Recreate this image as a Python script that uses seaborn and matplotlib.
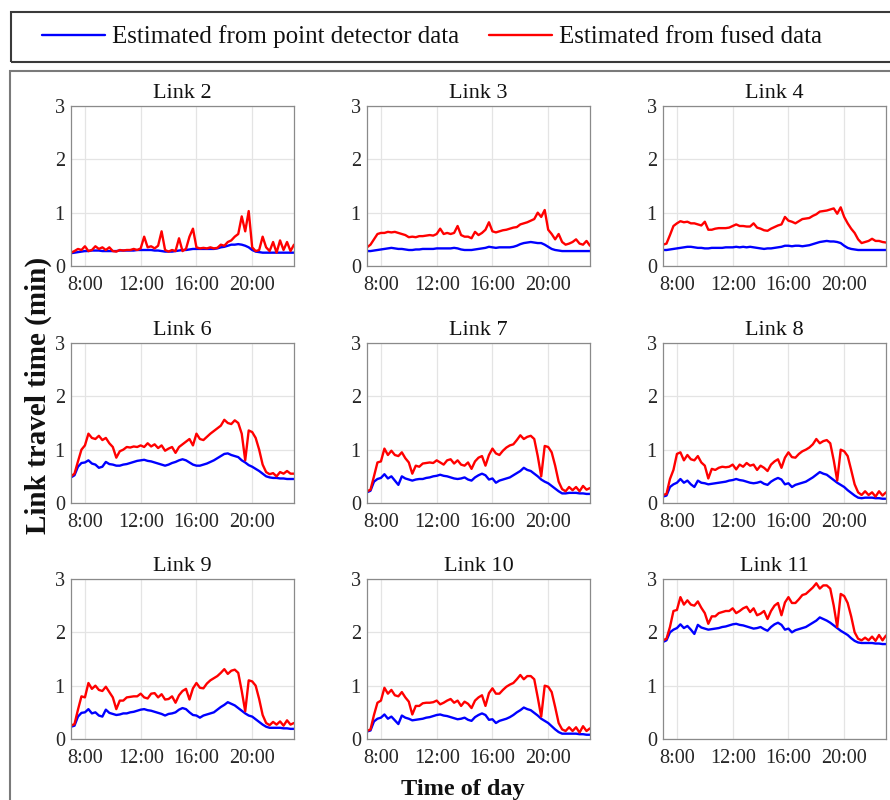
import numpy as np
import pandas as pd
import matplotlib
matplotlib.use("Agg")
import matplotlib.pyplot as plt
from matplotlib.lines import Line2D
from matplotlib.patches import Rectangle
import seaborn as sns

# ---------------------------------------------------------------- data
# 15-minute time grid from 07:00 to 23:00 (hours of the day)
hours = np.arange(7.0, 23.0 + 1e-9, 0.25)

xtick_hours = [8, 12, 16, 20]
xtick_labels = ["8:00", "12:00", "16:00", "20:00"]
ytick_values = [0, 1, 2, 3]

source_point = "Estimated from point detector data"
source_fused = "Estimated from fused data"

link_names = ["Link 2", "Link 3", "Link 4",
              "Link 6", "Link 7", "Link 8",
              "Link 9", "Link 10", "Link 11"]

# travel time (min), one row per hour: :00 :15 :30 :45
point_link2 = [0.24, 0.25, 0.26, 0.27,  0.28, 0.28, 0.29, 0.29,  0.29, 0.28, 0.28, 0.28,
               0.28, 0.28, 0.29, 0.29,  0.29, 0.29, 0.29, 0.30,  0.30, 0.30, 0.30, 0.30,
               0.29, 0.29, 0.28, 0.27,  0.27, 0.27, 0.28, 0.29,  0.30, 0.30, 0.31, 0.32,
               0.32, 0.32, 0.32, 0.32,  0.32, 0.32, 0.33, 0.35,  0.36, 0.38, 0.40, 0.40,
               0.41, 0.40, 0.38, 0.35,  0.30, 0.27, 0.26, 0.25,  0.25, 0.25, 0.25, 0.25,
               0.25, 0.25, 0.25, 0.25,  0.25]
fused_link2 = [0.25, 0.28, 0.32, 0.30,  0.37, 0.28, 0.30, 0.37,  0.32, 0.35, 0.30, 0.35,
               0.28, 0.27, 0.30, 0.29,  0.30, 0.30, 0.32, 0.30,  0.33, 0.55, 0.35, 0.37,
               0.33, 0.38, 0.65, 0.30,  0.27, 0.30, 0.28, 0.52,  0.28, 0.32, 0.55, 0.70,
               0.35, 0.33, 0.34, 0.33,  0.35, 0.33, 0.34, 0.40,  0.38, 0.45, 0.48, 0.55,
               0.60, 0.93, 0.65, 1.03,  0.35, 0.28, 0.30, 0.55,  0.35, 0.28, 0.45, 0.25,
               0.48, 0.30, 0.45, 0.28,  0.40]

point_link3 = [0.28, 0.28, 0.29, 0.30,  0.31, 0.32, 0.33, 0.34,  0.33, 0.32, 0.32, 0.31,
               0.30, 0.30, 0.31, 0.31,  0.32, 0.32, 0.32, 0.32,  0.33, 0.33, 0.33, 0.33,
               0.33, 0.34, 0.33, 0.31,  0.30, 0.30, 0.30, 0.31,  0.32, 0.33, 0.34, 0.36,
               0.35, 0.34, 0.35, 0.35,  0.35, 0.35, 0.36, 0.38,  0.41, 0.43, 0.44, 0.45,
               0.44, 0.43, 0.43, 0.40,  0.36, 0.32, 0.30, 0.29,  0.28, 0.28, 0.28, 0.28,
               0.28, 0.28, 0.28, 0.28,  0.28]
fused_link3 = [0.35, 0.40, 0.50, 0.60,  0.62, 0.62, 0.64, 0.63,  0.64, 0.62, 0.60, 0.58,
               0.54, 0.55, 0.54, 0.56,  0.56, 0.57, 0.58, 0.57,  0.60, 0.70, 0.60, 0.62,
               0.60, 0.62, 0.75, 0.58,  0.55, 0.55, 0.52, 0.64,  0.58, 0.62, 0.68, 0.82,
               0.65, 0.63, 0.65, 0.67,  0.68, 0.70, 0.72, 0.73,  0.78, 0.80, 0.82, 0.85,
               0.88, 1.00, 0.92, 1.05,  0.68, 0.60, 0.50, 0.60,  0.45, 0.40, 0.42, 0.45,
               0.50, 0.42, 0.40, 0.47,  0.38]

point_link4 = [0.30, 0.30, 0.31, 0.32,  0.33, 0.34, 0.35, 0.36,  0.36, 0.35, 0.34, 0.34,
               0.33, 0.33, 0.34, 0.34,  0.34, 0.34, 0.35, 0.35,  0.35, 0.36, 0.35, 0.36,
               0.35, 0.36, 0.35, 0.34,  0.33, 0.32, 0.33, 0.33,  0.34, 0.35, 0.36, 0.38,
               0.38, 0.37, 0.38, 0.38,  0.37, 0.38, 0.39, 0.41,  0.43, 0.45, 0.46, 0.47,
               0.46, 0.46, 0.45, 0.43,  0.38, 0.34, 0.32, 0.31,  0.30, 0.30, 0.30, 0.30,
               0.30, 0.30, 0.30, 0.30,  0.30]
fused_link4 = [0.40, 0.42, 0.58, 0.75,  0.80, 0.84, 0.82, 0.83,  0.80, 0.80, 0.78, 0.76,
               0.83, 0.68, 0.68, 0.70,  0.71, 0.71, 0.71, 0.72,  0.75, 0.78, 0.75, 0.75,
               0.74, 0.74, 0.80, 0.72,  0.70, 0.67, 0.66, 0.70,  0.73, 0.76, 0.78, 0.92,
               0.85, 0.83, 0.80, 0.84,  0.88, 0.89, 0.90, 0.94,  0.97, 1.02, 1.03, 1.04,
               1.06, 1.08, 0.98, 1.10,  0.92, 0.80, 0.70, 0.62,  0.50, 0.43, 0.45, 0.47,
               0.51, 0.47, 0.47, 0.45,  0.44]

point_link6 = [0.48, 0.52, 0.68, 0.75,  0.76, 0.80, 0.74, 0.72,  0.66, 0.68, 0.77, 0.73,
               0.72, 0.70, 0.70, 0.72,  0.73, 0.75, 0.77, 0.79,  0.80, 0.81, 0.79, 0.78,
               0.76, 0.74, 0.72, 0.70,  0.72, 0.75, 0.77, 0.80,  0.82, 0.80, 0.76, 0.72,
               0.70, 0.70, 0.72, 0.74,  0.77, 0.80, 0.84, 0.88,  0.92, 0.93, 0.90, 0.88,
               0.86, 0.80, 0.76, 0.71,  0.68, 0.64, 0.60, 0.55,  0.50, 0.48, 0.47, 0.47,
               0.46, 0.46, 0.45, 0.45,  0.45]
fused_link6 = [0.50, 0.55, 0.78, 1.00,  1.08, 1.30, 1.22, 1.20,  1.26, 1.18, 1.22, 1.12,
               1.05, 0.85, 0.97, 1.00,  1.05, 1.04, 1.06, 1.05,  1.08, 1.05, 1.12, 1.06,
               1.10, 1.03, 1.08, 0.98,  1.02, 1.05, 0.94, 1.05,  1.10, 1.15, 1.20, 1.08,
               1.30, 1.20, 1.18, 1.24,  1.30, 1.35, 1.40, 1.45,  1.56, 1.50, 1.48, 1.55,
               1.50, 1.30, 0.80, 1.36,  1.33, 1.22, 1.00, 0.72,  0.58, 0.54, 0.56, 0.50,
               0.58, 0.55, 0.60, 0.55,  0.55]

point_link7 = [0.20, 0.23, 0.40, 0.45,  0.47, 0.54, 0.46, 0.50,  0.42, 0.34, 0.50, 0.46,
               0.44, 0.42, 0.44, 0.45,  0.45, 0.47, 0.48, 0.50,  0.51, 0.53, 0.51, 0.50,
               0.48, 0.46, 0.45, 0.46,  0.48, 0.44, 0.42, 0.48,  0.52, 0.55, 0.52, 0.44,
               0.46, 0.38, 0.42, 0.44,  0.46, 0.48, 0.52, 0.56,  0.60, 0.66, 0.62, 0.60,
               0.55, 0.50, 0.44, 0.40,  0.37, 0.32, 0.27, 0.22,  0.18, 0.18, 0.19, 0.19,
               0.19, 0.18, 0.18, 0.17,  0.17]
fused_link7 = [0.22, 0.25, 0.50, 0.76,  0.78, 1.02, 0.90, 0.98,  0.90, 0.88, 0.95, 0.84,
               0.76, 0.55, 0.70, 0.68,  0.74, 0.75, 0.76, 0.75,  0.80, 0.76, 0.72, 0.80,
               0.82, 0.74, 0.80, 0.72,  0.70, 0.76, 0.64, 0.78,  0.85, 0.88, 0.70, 0.90,
               1.02, 0.93, 0.90, 0.98,  1.04, 1.08, 1.10, 1.18,  1.27, 1.20, 1.24, 1.26,
               1.20, 0.88, 0.50, 1.07,  1.05, 0.95, 0.70, 0.40,  0.26, 0.22, 0.30, 0.24,
               0.30, 0.22, 0.32, 0.25,  0.28]

point_link8 = [0.12, 0.14, 0.30, 0.35,  0.38, 0.45, 0.38, 0.42,  0.35, 0.30, 0.42, 0.38,
               0.37, 0.35, 0.36, 0.37,  0.38, 0.39, 0.40, 0.42,  0.43, 0.45, 0.43, 0.42,
               0.40, 0.38, 0.37, 0.38,  0.40, 0.36, 0.34, 0.40,  0.44, 0.47, 0.44, 0.35,
               0.37, 0.30, 0.34, 0.36,  0.38, 0.40, 0.44, 0.48,  0.53, 0.58, 0.55, 0.53,
               0.48, 0.43, 0.38, 0.34,  0.30, 0.24, 0.19, 0.14,  0.10, 0.09, 0.10, 0.10,
               0.10, 0.09, 0.09, 0.08,  0.08]
fused_link8 = [0.15, 0.17, 0.45, 0.62,  0.92, 0.95, 0.80, 0.90,  0.82, 0.80, 0.88, 0.76,
               0.70, 0.46, 0.64, 0.62,  0.66, 0.68, 0.67, 0.68,  0.72, 0.63, 0.72, 0.68,
               0.75, 0.70, 0.72, 0.62,  0.70, 0.66, 0.60, 0.72,  0.78, 0.82, 0.66, 0.85,
               0.95, 0.86, 0.85, 0.92,  0.97, 1.00, 1.04, 1.10,  1.20, 1.12, 1.16, 1.18,
               1.12, 0.80, 0.42, 1.00,  0.97, 0.88, 0.62, 0.35,  0.20, 0.15, 0.22, 0.15,
               0.20, 0.12, 0.22, 0.14,  0.20]

point_link9 = [0.23, 0.25, 0.42, 0.49,  0.50, 0.56, 0.48, 0.50,  0.44, 0.42, 0.55, 0.49,
               0.47, 0.45, 0.46, 0.48,  0.48, 0.50, 0.51, 0.53,  0.55, 0.56, 0.54, 0.53,
               0.51, 0.49, 0.47, 0.44,  0.47, 0.48, 0.50, 0.55,  0.58, 0.56, 0.50, 0.45,
               0.44, 0.40, 0.44, 0.46,  0.48, 0.50, 0.55, 0.60,  0.64, 0.69, 0.66, 0.63,
               0.58, 0.53, 0.48, 0.44,  0.42, 0.37, 0.32, 0.27,  0.23, 0.21, 0.21, 0.21,
               0.21, 0.20, 0.20, 0.19,  0.19]
fused_link9 = [0.25, 0.28, 0.55, 0.80,  0.78, 1.05, 0.94, 1.00,  0.92, 0.90, 0.98, 0.88,
               0.78, 0.56, 0.72, 0.72,  0.78, 0.79, 0.80, 0.80,  0.85, 0.78, 0.76, 0.85,
               0.86, 0.78, 0.84, 0.74,  0.75, 0.80, 0.68, 0.82,  0.90, 0.94, 0.74, 0.95,
               1.05, 0.96, 0.95, 1.04,  1.10, 1.14, 1.18, 1.24,  1.31, 1.22, 1.28, 1.30,
               1.24, 0.90, 0.52, 1.10,  1.08, 1.00, 0.75, 0.45,  0.30, 0.26, 0.32, 0.27,
               0.33, 0.25, 0.35, 0.27,  0.30]

point_link10 = [0.14, 0.16, 0.33, 0.38,  0.40, 0.46, 0.38, 0.42,  0.35, 0.28, 0.44, 0.40,
                0.38, 0.35, 0.36, 0.37,  0.38, 0.40, 0.41, 0.43,  0.45, 0.46, 0.44, 0.43,
                0.41, 0.39, 0.37, 0.38,  0.40, 0.36, 0.34, 0.41,  0.45, 0.48, 0.45, 0.36,
                0.37, 0.30, 0.34, 0.36,  0.38, 0.41, 0.45, 0.50,  0.54, 0.59, 0.56, 0.54,
                0.49, 0.44, 0.38, 0.34,  0.30, 0.24, 0.18, 0.13,  0.10, 0.10, 0.10, 0.10,
                0.10, 0.09, 0.09, 0.08,  0.08]
fused_link10 = [0.15, 0.18, 0.45, 0.68,  0.72, 0.96, 0.85, 0.92,  0.82, 0.80, 0.88, 0.78,
                0.70, 0.46, 0.62, 0.62,  0.67, 0.68, 0.68, 0.69,  0.72, 0.65, 0.68, 0.72,
                0.75, 0.68, 0.72, 0.62,  0.70, 0.66, 0.58, 0.72,  0.78, 0.82, 0.62, 0.86,
                0.95, 0.85, 0.85, 0.92,  0.98, 1.02, 1.05, 1.12,  1.20, 1.12, 1.18, 1.18,
                1.12, 0.78, 0.42, 1.00,  0.98, 0.88, 0.60, 0.30,  0.18, 0.15, 0.22, 0.15,
                0.22, 0.12, 0.24, 0.15,  0.20]

point_link11 = [1.82, 1.85, 2.00, 2.05,  2.08, 2.15, 2.08, 2.12,  2.05, 1.97, 2.14, 2.09,
                2.07, 2.05, 2.06, 2.07,  2.08, 2.10, 2.11, 2.13,  2.15, 2.16, 2.14, 2.13,
                2.11, 2.09, 2.07, 2.08,  2.10, 2.06, 2.03, 2.10,  2.15, 2.18, 2.14, 2.05,
                2.07, 2.00, 2.04, 2.06,  2.08, 2.10, 2.14, 2.18,  2.22, 2.28, 2.25, 2.22,
                2.18, 2.13, 2.08, 2.03,  1.99, 1.95, 1.89, 1.84,  1.81, 1.80, 1.80, 1.80,
                1.80, 1.79, 1.79, 1.78,  1.78]
fused_link11 = [1.85, 1.88, 2.10, 2.40,  2.42, 2.66, 2.52, 2.60,  2.52, 2.50, 2.58, 2.46,
                2.36, 2.16, 2.30, 2.30,  2.36, 2.38, 2.40, 2.40,  2.45, 2.36, 2.40, 2.45,
                2.48, 2.38, 2.45, 2.32,  2.35, 2.40, 2.25, 2.40,  2.50, 2.55, 2.32, 2.56,
                2.66, 2.55, 2.55, 2.62,  2.70, 2.72, 2.78, 2.84,  2.92, 2.82, 2.88, 2.88,
                2.82, 2.50, 2.10, 2.72,  2.68, 2.55, 2.30, 2.00,  1.88, 1.85, 1.90, 1.85,
                1.92, 1.84, 1.95, 1.85,  1.94]

point_series = [point_link2, point_link3, point_link4, point_link6, point_link7,
                point_link8, point_link9, point_link10, point_link11]
fused_series = [fused_link2, fused_link3, fused_link4, fused_link6, fused_link7,
                fused_link8, fused_link9, fused_link10, fused_link11]

# ---------------------------------------------------------------- style
sns.set_style("white")
plt.rcParams["font.family"] = ["Liberation Serif", "DejaVu Serif"]
plt.rcParams["axes.unicode_minus"] = False

palette = {source_point: "#0000ff", source_fused: "#ff0000"}
text_color = "#262626"
spine_color = "#8a8a8a"

W, H = 890, 800
fig = plt.figure(figsize=(W / 100, H / 100), dpi=100)
fig.patch.set_facecolor("white")


def add_panel(left_px, top_px, w_px=223, h_px=160):
    return fig.add_axes([left_px / W, 1 - (top_px + h_px) / H, w_px / W, h_px / H])


col_left = [71, 367, 663]
row_top = [106, 343, 579]

for k, name in enumerate(link_names):
    r, c = divmod(k, 3)
    ax = add_panel(col_left[c], row_top[r])
    df = pd.DataFrame({
        "hour": np.concatenate([hours, hours]),
        "travel_time": np.concatenate([point_series[k], fused_series[k]]),
        "source": [source_point] * len(hours) + [source_fused] * len(hours),
    })
    sns.lineplot(data=df, x="hour", y="travel_time", hue="source",
                 hue_order=[source_point, source_fused], palette=palette,
                 estimator=None, linewidth=1.7, legend=False, ax=ax)
    ax.set_xlim(7, 23)
    ax.set_ylim(0, 3)
    ax.set_xticks(xtick_hours)
    ax.set_xticklabels(xtick_labels)
    ax.set_yticks(ytick_values)
    ax.set_yticklabels([str(v) for v in ytick_values])
    ax.set_xlabel("")
    ax.set_ylabel("")
    ax.grid(True, color="#e4e4e4", linewidth=0.9)
    ax.set_axisbelow(True)
    for sp in ax.spines.values():
        sp.set_visible(True)
        sp.set_color(spine_color)
        sp.set_linewidth(0.9)
    ax.tick_params(direction="in", length=3, width=0.7, color=spine_color,
                   labelcolor=text_color, labelsize=14.6)
    ax.tick_params(axis="x", pad=7.5)
    ax.tick_params(axis="y", pad=4.5)
    ax.set_title(name, fontsize=16, color="#111111", pad=6)

# shared axis labels
fig.text(38 / W, 1 - 395 / H, "Link travel time (min)", rotation=90,
         ha="center", va="center", fontsize=21, fontweight="bold", color="#111111")
fig.text(463 / W, 1 - 795 / H, "Time of day", ha="center", va="baseline",
         fontsize=17.5, fontweight="bold", color="#111111")

# frame around the panel grid
fig.add_artist(Rectangle((10 / W, -0.05), 1.1, 1 - 71 / H + 0.05,
                         transform=fig.transFigure, fill=False,
                         edgecolor="#7a7a7a", linewidth=1.5, clip_on=False))

# legend box across the top
fig.add_artist(Rectangle((11 / W, 1 - 62 / H), 1.1, 50 / H,
                         transform=fig.transFigure, fill=False,
                         edgecolor="#3a3a3a", linewidth=1.5, clip_on=False))
handles = [Line2D([], [], color=palette[source_point], linewidth=1.7),
           Line2D([], [], color=palette[source_fused], linewidth=1.7)]
fig.legend(handles, [source_point, source_fused], loc="center left",
           bbox_to_anchor=(42 / W, 1 - 37 / H), ncol=2, frameon=False,
           fontsize=18.0, handlelength=2.5, handletextpad=0.3,
           columnspacing=1.2, borderpad=0, borderaxespad=0,
           labelcolor="#111111")

fig.savefig("out.png", dpi=100, facecolor="white")
